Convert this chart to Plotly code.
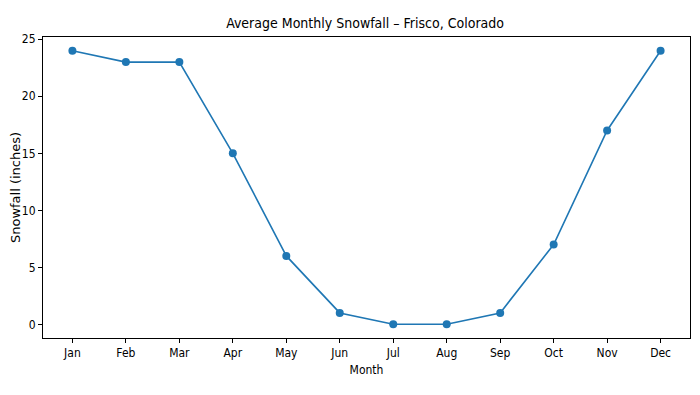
import plotly.graph_objects as go

months = ["Jan", "Feb", "Mar", "Apr", "May", "Jun", "Jul", "Aug", "Sep", "Oct", "Nov", "Dec"]
snowfall = [24, 23, 23, 15, 6, 1, 0, 0, 1, 7, 17, 24]
y_ticks = [0, 5, 10, 15, 20, 25]

narrow = "Liberation Sans Narrow, DejaVu Sans Condensed, Arial Narrow, sans-serif"

fig = go.Figure(go.Scatter(
    x=list(range(len(months))), y=snowfall, mode="lines+markers",
    line=dict(color="#1f77b4", width=1.6),
    marker=dict(color="#1f77b4", size=8),
))

fig.update_layout(
    width=692, height=387,
    paper_bgcolor="white", plot_bgcolor="white",
    margin=dict(l=35, r=10, t=29, b=57, autoexpand=False),
    showlegend=False,
    title=dict(text="Average Monthly Snowfall – Frisco, Colorado", x=0.516, xanchor="center",
               y=0.962, yanchor="middle", font=dict(family=narrow, size=14, color="black")),
    font=dict(family=narrow, size=12, color="black"),
)

fig.update_xaxes(
    range=[-0.55, 11.55], tickvals=list(range(len(months))), ticktext=months,
    showline=True, linecolor="black", linewidth=1, mirror=True, automargin=False,
    ticks="outside", ticklen=4, tickcolor="black", showgrid=False, zeroline=False,
    title=dict(text="Month", font=dict(family=narrow, size=12), standoff=6),
    tickfont=dict(family=narrow, size=12),
)
fig.update_yaxes(
    range=[-1.2, 25.2], tickvals=y_ticks,
    showline=True, linecolor="black", linewidth=1, mirror=True, automargin=False,
    ticks="outside", ticklen=4, tickcolor="black", showgrid=False, zeroline=False,
    title=dict(text="Snowfall (inches)", font=dict(family="DejaVu Sans", size=13), standoff=12),
    tickfont=dict(family=narrow, size=12),
)

fig.write_html("out.html")
